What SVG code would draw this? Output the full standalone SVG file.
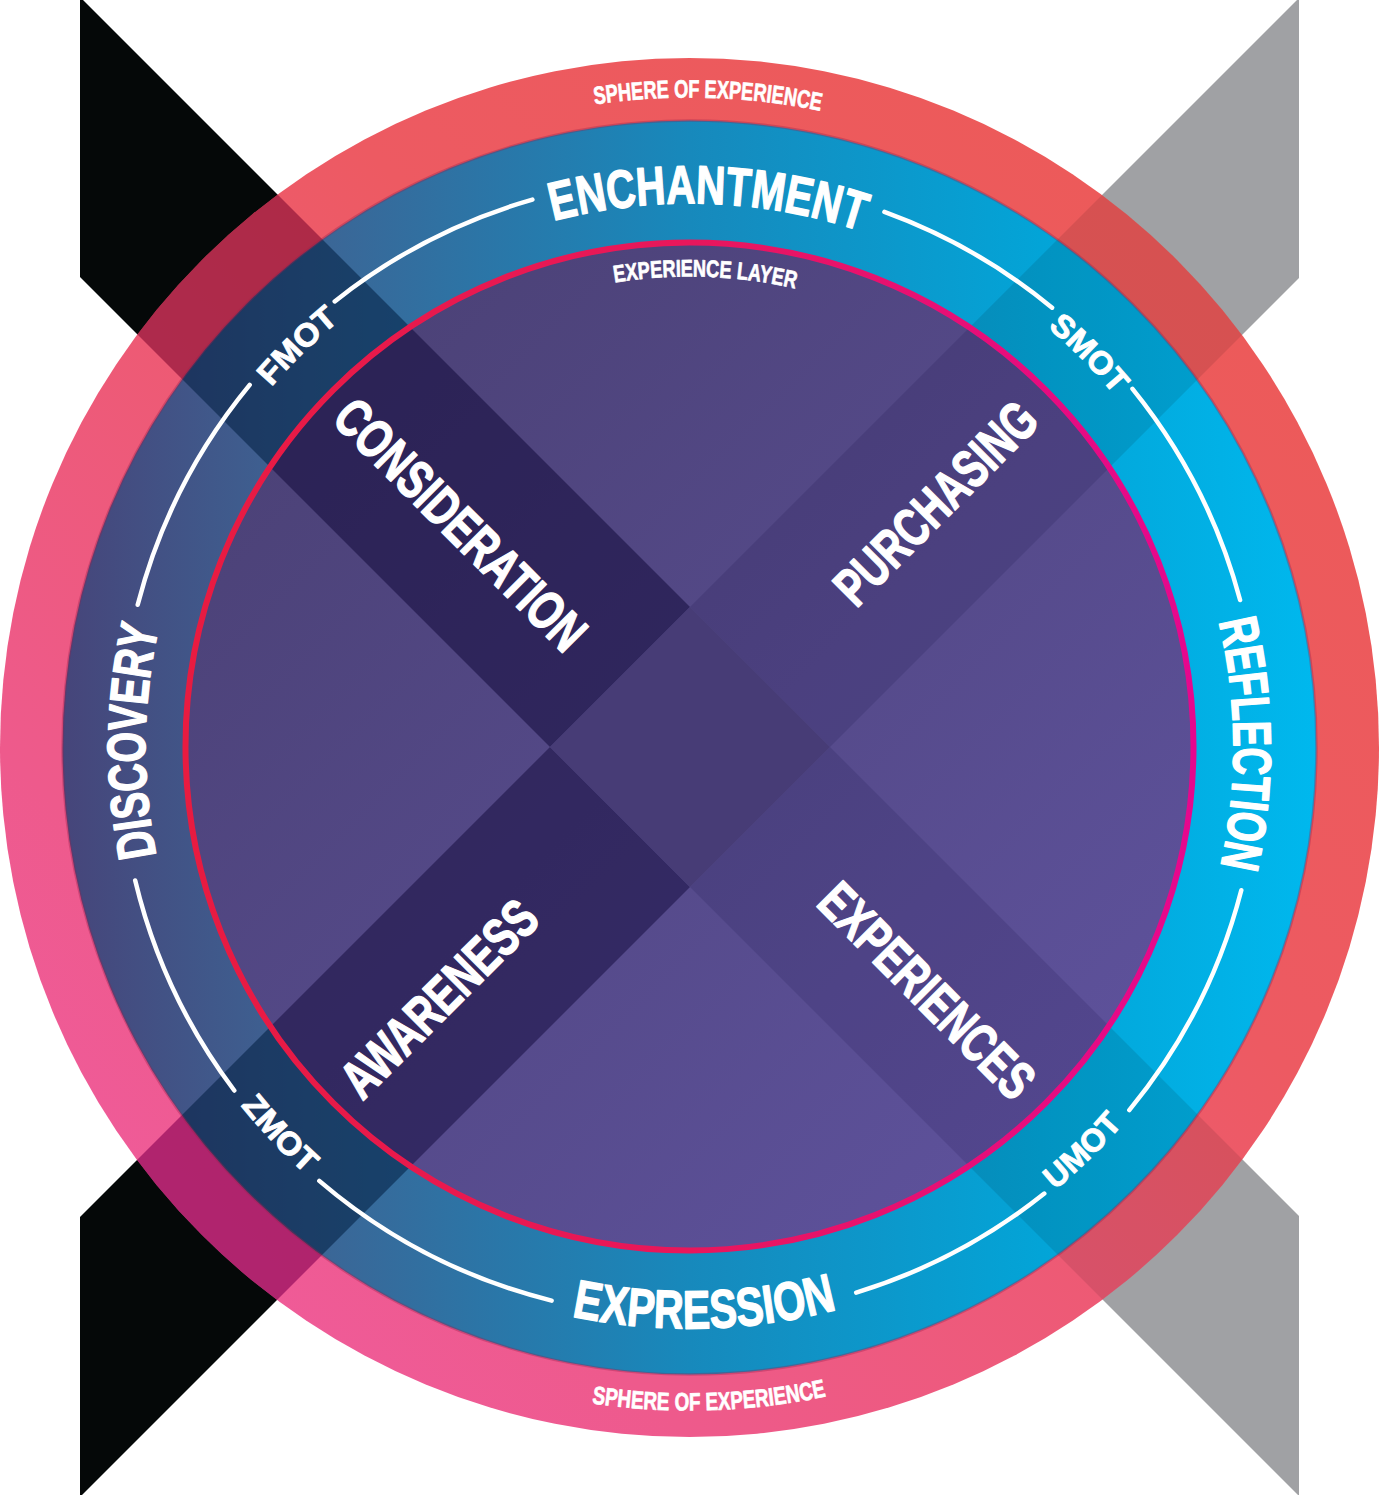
<svg xmlns="http://www.w3.org/2000/svg" width="1379" height="1495" viewBox="0 0 1379 1495">
<style>
  text { font-family: "Liberation Sans Narrow", "Liberation Sans", Arial, sans-serif; font-weight: bold; fill: #ffffff; stroke: #ffffff; stroke-linejoin: round; }
  .big { font-size: 54px; stroke-width: 1.4; }
  .mot { font-size: 32px; stroke-width: 0.9; }
  .small { font-size: 25px; stroke-width: 0.7; }
  .layer { font-size: 24px; stroke-width: 0.7; }
  .arc { fill: none; stroke: #ffffff; stroke-width: 4.5; stroke-linecap: round; }
</style>
<defs>
  <linearGradient id="gOuter" gradientUnits="userSpaceOnUse" x1="0" y1="1437" x2="1379" y2="58">
    <stop offset="0" stop-color="#f15ca8"/>
    <stop offset="0.25" stop-color="#ee5a8c"/>
    <stop offset="0.6" stop-color="#ed5a62"/>
    <stop offset="1" stop-color="#ec5a55"/>
  </linearGradient>
  <linearGradient id="gBlue" gradientUnits="userSpaceOnUse" x1="62" y1="0" x2="1317" y2="0">
    <stop offset="0" stop-color="#46457a"/>
    <stop offset="0.2" stop-color="#3c6595"/>
    <stop offset="0.5" stop-color="#1789bc"/>
    <stop offset="0.78" stop-color="#03a4d7"/>
    <stop offset="1" stop-color="#00b8ee"/>
  </linearGradient>
  <linearGradient id="gPurple" gradientUnits="userSpaceOnUse" x1="330" y1="390" x2="1050" y2="1110">
    <stop offset="0" stop-color="#4c4278"/>
    <stop offset="1" stop-color="#5d519a"/>
  </linearGradient>
  <linearGradient id="gRed" gradientUnits="userSpaceOnUse" x1="184" y1="0" x2="1195" y2="0">
    <stop offset="0" stop-color="#e81b40"/>
    <stop offset="0.5" stop-color="#e8175c"/>
    <stop offset="1" stop-color="#e6078e"/>
  </linearGradient>
  <clipPath id="clipOuter"><circle cx="689.5" cy="747.5" r="689.5"/></clipPath>
  <clipPath id="clipBlue"><circle cx="689.5" cy="747.5" r="627"/></clipPath>
  <clipPath id="clipInner"><circle cx="689.5" cy="746.5" r="504"/></clipPath>
  <polygon id="armTL" points="690,607 80,-3 80,277 550,747"/>
  <polygon id="armBL" points="550,747 80,1217 80,1497 690,887"/>
  <polygon id="armTR" points="690,607 1299,-2 1299,278 830,747"/>
  <polygon id="armBR" points="830,747 1299,1216 1299,1496 690,887"/>
  <path id="cw544" d="M689.5,1291.5 A544,544 0 1 1 689.5,203.5 A544,544 0 1 1 689.5,1291.5"/>
  <path id="cw552" d="M689.5,1299.5 A552,552 0 1 1 689.5,195.5 A552,552 0 1 1 689.5,1299.5"/>
  <path id="cw650" d="M689.5,1397.5 A650,650 0 1 1 689.5,97.5 A650,650 0 1 1 689.5,1397.5"/>
  <path id="cw471" d="M689.5,1218.5 A471,471 0 1 1 689.5,276.5 A471,471 0 1 1 689.5,1218.5"/>
  <path id="ccw581" d="M689.5,166.5 A581,581 0 1 0 689.5,1328.5 A581,581 0 1 0 689.5,166.5"/>
  <path id="ccw574" d="M689.5,173.5 A574,574 0 1 0 689.5,1321.5 A574,574 0 1 0 689.5,173.5"/>
  <path id="ccw663" d="M689.5,84.5 A663,663 0 1 0 689.5,1410.5 A663,663 0 1 0 689.5,84.5"/>
</defs>

<g id="arms">
  <use href="#armTL" fill="#050808"/>
  <use href="#armBL" fill="#050808"/>
  <use href="#armTR" fill="#a0a1a4"/>
  <use href="#armBR" fill="#a0a1a4"/>
</g>

<g id="sphere-ring">
  <circle cx="689.5" cy="747.5" r="689.5" fill="url(#gOuter)"/>
  <g clip-path="url(#clipOuter)">
    <use href="#armTL" fill="#840a32" fill-opacity="0.6"/>
    <use href="#armBL" fill="#860053" fill-opacity="0.6"/>
    <use href="#armTR" fill="#000000" fill-opacity="0.09"/>
    <use href="#armBR" fill="#000000" fill-opacity="0.09"/>
  </g>
</g>

<g id="journey-ring">
  <circle cx="689.5" cy="747.5" r="627" fill="url(#gBlue)"/>
  <g clip-path="url(#clipBlue)">
    <use href="#armTL" fill="#001e40" fill-opacity="0.55"/>
    <use href="#armBL" fill="#001e40" fill-opacity="0.55"/>
    <use href="#armTR" fill="#000000" fill-opacity="0.1"/>
    <use href="#armBR" fill="#000000" fill-opacity="0.1"/>
  </g>
  <circle cx="689.5" cy="747.5" r="627" fill="none" stroke="#9a1f4a" stroke-opacity="0.35" stroke-width="2.5"/>
</g>

<g id="experience-layer">
  <circle cx="689.5" cy="746.5" r="504" fill="url(#gPurple)"/>
  <g clip-path="url(#clipInner)">
    <use href="#armTL" fill="#0b0333" fill-opacity="0.5"/>
    <use href="#armBL" fill="#0b0333" fill-opacity="0.46"/>
    <use href="#armTR" fill="#0b0333" fill-opacity="0.13"/>
    <use href="#armBR" fill="#0b0333" fill-opacity="0.13"/>
    <polygon points="690,607 830,747 690,887 550,747" fill="#473c76"/>
  </g>
  <circle cx="689.5" cy="746.5" r="504" fill="none" stroke="url(#gRed)" stroke-width="6"/>
</g>

<g id="connectors">
  <path class="arc" d="M334.7,301.4 A570,570 0 0 1 532.4,199.6"/>
  <path class="arc" d="M137.7,604.8 A570,570 0 0 1 249.7,384.9"/>
  <path class="arc" d="M234.3,1090.5 A570,570 0 0 1 135.2,880.5"/>
  <path class="arc" d="M551.6,1300.6 A570,570 0 0 1 319.3,1180.9"/>
  <path class="arc" d="M1044.3,1193.6 A570,570 0 0 1 856.2,1292.6"/>
  <path class="arc" d="M1241.3,890.2 A570,570 0 0 1 1129.3,1110.1"/>
  <path class="arc" d="M1132.5,388.8 A570,570 0 0 1 1240.1,600.0"/>
  <path class="arc" d="M884.4,211.9 A570,570 0 0 1 1052.1,307.7"/>
</g>

<g id="sphere-labels">
  <text class="small" text-anchor="middle"><textPath href="#cw650" startOffset="50.45%" textLength="227" lengthAdjust="spacingAndGlyphs">SPHERE OF EXPERIENCE</textPath></text>
  <text class="small" text-anchor="middle"><textPath href="#ccw663" startOffset="50.48%" textLength="236" lengthAdjust="spacingAndGlyphs">SPHERE OF EXPERIENCE</textPath></text>
</g>

<g id="stage-enchantment"><text class="big" text-anchor="middle"><textPath href="#cw544" startOffset="50.54%" textLength="312" lengthAdjust="spacingAndGlyphs">ENCHANTMENT</textPath></text></g>
<g id="stage-discovery"><text class="big" text-anchor="middle"><textPath href="#cw544" startOffset="25.18%" textLength="230" lengthAdjust="spacingAndGlyphs">DISCOVERY</textPath></text></g>
<g id="stage-reflection"><text class="big" text-anchor="middle"><textPath href="#cw544" startOffset="74.89%" textLength="247" lengthAdjust="spacingAndGlyphs">REFLECTION</textPath></text></g>
<g id="stage-expression"><text class="big" text-anchor="middle"><textPath href="#ccw581" startOffset="50.42%" textLength="268" lengthAdjust="spacingAndGlyphs">EXPRESSION</textPath></text></g>

<g id="mot-fmot"><text class="mot" text-anchor="middle"><textPath href="#cw552" startOffset="37.69%" textLength="95" lengthAdjust="spacingAndGlyphs">FMOT</textPath></text></g>
<g id="mot-smot"><text class="mot" text-anchor="middle"><textPath href="#cw552" startOffset="62.61%" textLength="95" lengthAdjust="spacingAndGlyphs">SMOT</textPath></text></g>
<g id="mot-zmot"><text class="mot" text-anchor="middle"><textPath href="#ccw574" startOffset="37.03%" textLength="95" lengthAdjust="spacingAndGlyphs">ZMOT</textPath></text></g>
<g id="mot-umot"><text class="mot" text-anchor="middle"><textPath href="#ccw574" startOffset="62.30%" textLength="95" lengthAdjust="spacingAndGlyphs">UMOT</textPath></text></g>

<g id="layer-label"><text class="layer" text-anchor="middle"><textPath href="#cw471" startOffset="50.53%" textLength="182" lengthAdjust="spacingAndGlyphs">EXPERIENCE LAYER</textPath></text></g>

<g id="phase-consideration" transform="translate(461,524) rotate(45)"><text class="big" text-anchor="middle" x="0" y="19.5" textLength="331" lengthAdjust="spacingAndGlyphs">CONSIDERATION</text></g>
<g id="phase-purchasing" transform="translate(935,502.5) rotate(-45)"><text class="big" text-anchor="middle" x="0" y="19.5" textLength="262" lengthAdjust="spacingAndGlyphs">PURCHASING</text></g>
<g id="phase-awareness" transform="translate(438.5,998) rotate(-45)"><text class="big" text-anchor="middle" x="0" y="19.5" textLength="254" lengthAdjust="spacingAndGlyphs">AWARENESS</text></g>
<g id="phase-experiences" transform="translate(927.5,990) rotate(45)"><text class="big" text-anchor="middle" x="0" y="19.5" textLength="280" lengthAdjust="spacingAndGlyphs">EXPERIENCES</text></g>
</svg>
